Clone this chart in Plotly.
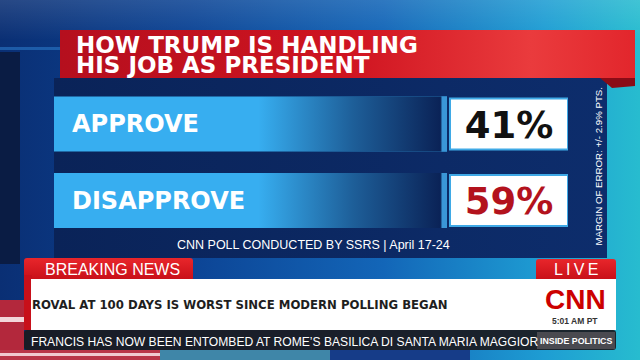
import base64
import plotly.graph_objects as go

# ---------------- data ----------------
categories = ["APPROVE", "DISAPPROVE"]
values = [41, 59]
value_colors = ["#111111", "#b3121d"]
title_lines = ["HOW TRUMP IS HANDLING", "HIS JOB AS PRESIDENT"]
source_note = "CNN POLL CONDUCTED BY SSRS | April 17-24"
margin_note = "MARGIN OF ERROR: +/- 2.9% PTS."
tab_left = "BREAKING NEWS"
tab_right = "L\u2009I\u2009V\u2009E"
headline = "ROVAL AT 100 DAYS IS WORST SINCE MODERN POLLING BEGAN"
ticker = "FRANCIS HAS NOW BEEN ENTOMBED AT ROME\u2019S BASILICA DI SANTA MARIA MAGGIOR"
show_name = "INSIDE POLITICS"
clock = "5:01 AM PT"
network = "CNN"
scale_total = 100  # each plate represents 100% of respondents

# ---------------- layout constants (pixels) ----------------
W, H = 640, 360
PLATE_X0, PLATE_X1 = 54, 447
BOX_X0, BOX_X1 = 450, 568
ROW_C0, ROW_GAP = 124.0, 76.5
PLATE_H, BOX_H = 55, 51
LABEL_X = 72
LABEL_DY = 2.0   # px shift of label text downwards
VALUE_DY = 4.5   # px shift of value text downwards
TITLE_LEAD = 20.5

unit = (PLATE_X1 - PLATE_X0) / scale_total
x_max = (BOX_X1 - PLATE_X0) / unit
box_base = (BOX_X0 - PLATE_X0) / unit
box_len = (BOX_X1 - BOX_X0) / unit
n = len(categories)
ypos = list(range(n))
dom_top = ROW_C0 - ROW_GAP / 2
dom_bot = ROW_C0 + ROW_GAP * (n - 1) + ROW_GAP / 2


def px(x):
    return x / W


def py(y):
    return 1 - y / H


CNN_FONT = "DejaVu Sans"
SANS = "Liberation Sans, Arial, sans-serif"
CONDENSED = ("Liberation Sans Narrow, Arial Narrow, DejaVu Sans Condensed, Liberation Sans")

# ---------------- decorative backdrop (no text) ----------------
svg = """<svg xmlns='http://www.w3.org/2000/svg' width='640' height='360' viewBox='0 0 640 360' preserveAspectRatio='none'>
<defs>
<linearGradient id='bg' x1='0' y1='0' x2='1' y2='0'>
<stop offset='0' stop-color='#0a2f74'/><stop offset='0.3' stop-color='#0c4495'/>
<stop offset='0.6' stop-color='#1366b8'/><stop offset='0.85' stop-color='#1e9dd3'/>
<stop offset='1' stop-color='#27bccf'/></linearGradient>
<linearGradient id='top' x1='0' y1='0' x2='0' y2='1'>
<stop offset='0' stop-color='#ffffff' stop-opacity='0.12'/><stop offset='1' stop-color='#ffffff' stop-opacity='0'/></linearGradient>
<linearGradient id='panel' x1='0' y1='0' x2='1' y2='0'>
<stop offset='0' stop-color='#0a2358'/><stop offset='1' stop-color='#0d2d6c'/></linearGradient>
<linearGradient id='red' x1='0' y1='0' x2='1' y2='0'>
<stop offset='0' stop-color='#b50f1e'/><stop offset='0.5' stop-color='#cf1420'/>
<stop offset='0.82' stop-color='#ea3b3d'/><stop offset='1' stop-color='#e2262c'/></linearGradient>
<linearGradient id='tab' x1='0' y1='0' x2='0' y2='1'>
<stop offset='0' stop-color='#e8262b'/><stop offset='1' stop-color='#c40d16'/></linearGradient>
</defs>
<rect width='640' height='360' fill='url(#bg)'/>
<rect width='640' height='40' fill='url(#top)'/>
<rect x='0' y='47' width='60' height='3' fill='#2a78c8' opacity='0.6'/>
<rect x='0' y='52' width='20' height='212' fill='#0a1c44'/>
<rect x='54' y='78' width='553' height='180' fill='url(#panel)'/>
<polygon points='600,78 635,78 635,86 612,88' fill='#8a0c17'/>
<rect x='60' y='30' width='575' height='48' fill='url(#red)'/>
<rect x='0' y='300' width='24' height='60' fill='#b3283c'/>
<rect x='0' y='317' width='24' height='5' fill='#f2d6da'/>
<rect x='0' y='350' width='160' height='10' fill='#b93447'/>
<rect x='0' y='353' width='160' height='3' fill='#f0c8cf'/>
<rect x='160' y='350' width='170' height='10' fill='#3f86a8'/>
<rect x='330' y='350' width='140' height='10' fill='#163c88'/>
<rect x='24' y='258' width='169' height='24' rx='3' fill='url(#tab)'/>
<rect x='536' y='259' width='80' height='23' rx='3' fill='url(#tab)'/>
<rect x='24' y='275' width='8' height='55' fill='#c8101a'/>
<rect x='31' y='279' width='585' height='51' fill='#ffffff'/>
<rect x='24' y='330' width='592' height='20' rx='3' fill='#1b1b20' fill-opacity='0.93'/>
<rect x='537' y='332' width='78' height='17' fill='#4a4a50'/>
</svg>"""
svg_uri = "data:image/svg+xml;base64," + base64.b64encode(svg.encode()).decode()

fig = go.Figure()

# plates (each = full 100% scale)
fig.add_trace(go.Bar(
    orientation="h", y=ypos, x=[scale_total] * n, base=0, width=PLATE_H / ROW_GAP,
    marker=dict(color="#37aef0", line=dict(width=0)), hoverinfo="skip", showlegend=False))
# value boxes
fig.add_trace(go.Bar(
    orientation="h", y=ypos, x=[box_len] * n, base=box_base, width=BOX_H / ROW_GAP,
    marker=dict(color="#ffffff", line=dict(color="#3fa9e6", width=2)),
    hoverinfo="skip", showlegend=False))
# darkening gradient on each plate
half = PLATE_H / ROW_GAP / 2
g0 = 0.52 * scale_total
for yi in ypos:
    fig.add_trace(go.Scatter(
        x=[g0, scale_total, scale_total, g0, g0],
        y=[yi - half, yi - half, yi + half, yi + half, yi - half],
        mode="lines", line=dict(width=0), fill="toself",
        fillgradient=dict(type="horizontal", start=g0, stop=scale_total,
                          colorscale=[[0, "rgba(9,30,82,0)"], [0.5, "rgba(9,30,82,0.55)"],
                                      [0.965, "rgba(9,30,82,0.97)"], [0.975, "rgba(58,150,215,1)"],
                                      [1, "rgba(58,150,215,1)"]]),
        hoverinfo="skip", showlegend=False))
# category labels
fig.add_trace(go.Scatter(
    x=[(LABEL_X - PLATE_X0) / unit] * n, y=[yi + LABEL_DY / ROW_GAP for yi in ypos],
    mode="text", text=categories, textposition="middle right",
    textfont=dict(family=CNN_FONT, size=24, color="#ffffff", weight="bold"),
    hoverinfo="skip", showlegend=False))
# values
fig.add_trace(go.Scatter(
    x=[box_base + box_len / 2] * n, y=[yi + VALUE_DY / ROW_GAP for yi in ypos],
    mode="text", text=[f"{v}%" for v in values], textposition="middle center",
    textfont=dict(family=CNN_FONT, size=37, color=value_colors, weight="bold"),
    hoverinfo="skip", showlegend=False))

ann = []
for i, line in enumerate(title_lines):
    ann.append(dict(text=line, x=px(74), y=py(44.5 + TITLE_LEAD * i), xanchor="left", yanchor="middle",
                    font=dict(family=CNN_FONT, size=23, color="#ffffff", weight="bold")))
ann.append(dict(text=source_note, x=px(313), y=py(244.5), xanchor="center", yanchor="middle",
                font=dict(family=SANS, size=12.5, color="#ffffff")))
ann.append(dict(text=margin_note, x=px(597.5), y=py(166), xanchor="center", yanchor="middle",
                textangle=-90, font=dict(family=SANS, size=9.7, color="#ffffff")))
ann.append(dict(text=tab_left, x=px(112.5), y=py(269), xanchor="center", yanchor="middle",
                font=dict(family=SANS, size=16, color="#ffffff")))
ann.append(dict(text=tab_right, x=px(576), y=py(269), xanchor="center", yanchor="middle",
                font=dict(family=SANS, size=16, color="#ffffff")))
ann.append(dict(text=headline, x=px(30), y=py(304.5), xanchor="left", yanchor="middle",
                font=dict(family=CONDENSED, size=13, color="#1e1e1e", weight="bold")))
ann.append(dict(text=network, x=px(575), y=py(299), xanchor="center", yanchor="middle",
                font=dict(family=SANS, size=28, color="#cc0000", weight="bold")))
ann.append(dict(text=clock, x=px(575), y=py(321), xanchor="center", yanchor="middle",
                font=dict(family=SANS, size=8.5, color="#333333", weight="bold")))
ann.append(dict(text=ticker, x=px(29), y=py(341.5), xanchor="left", yanchor="middle",
                font=dict(family=SANS, size=12.1, color="#ffffff")))
ann.append(dict(text=show_name, x=px(576), y=py(341), xanchor="center", yanchor="middle",
                font=dict(family=SANS, size=8.8, color="#ffffff", weight="bold")))
for a in ann:
    a.update(xref="paper", yref="paper", showarrow=False)

fig.update_layout(
    width=W, height=H, autosize=False,
    margin=dict(l=0, r=0, t=0, b=0, pad=0),
    paper_bgcolor="#0b3a8a", plot_bgcolor="rgba(0,0,0,0)",
    barmode="overlay", showlegend=False,
    xaxis=dict(range=[0, x_max], domain=[px(PLATE_X0), px(BOX_X1)], visible=False, fixedrange=True),
    yaxis=dict(range=[n - 0.5, -0.5], domain=[py(dom_bot), py(dom_top)], visible=False, fixedrange=True),
    images=[dict(source=svg_uri, xref="paper", yref="paper", x=0, y=1, sizex=1, sizey=1,
                 xanchor="left", yanchor="top", sizing="stretch", layer="below")],
    annotations=ann,
)

fig.write_html("out.html", config={"displayModeBar": False})
